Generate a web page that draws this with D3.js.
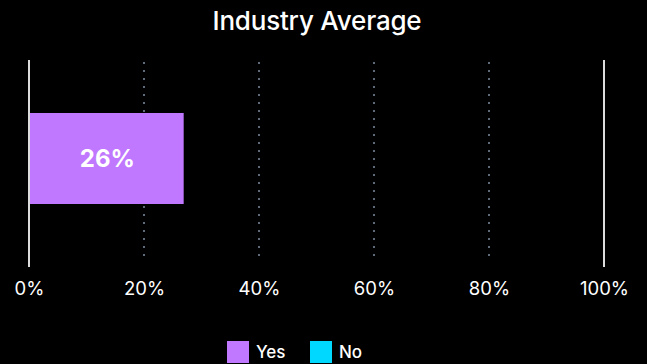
<!DOCTYPE html>
<html>
<head>
<meta charset="utf-8">
<script src="https://cdn.jsdelivr.net/npm/d3@7"></script>
<style>
  html, body { margin: 0; padding: 0; background: #000; }
  svg { display: block; }
  text { font-family: Inter, Lato, sans-serif; fill: #fff; }
</style>
</head>
<body>
<svg id="chart" width="647" height="364"></svg>
<script>
// Chart data
const title = "Industry Average";
const categories = ["Industry Average"];
const seriesNames = ["Yes", "No"];
const seriesColors = ["#bf78ff", "#00d8ff"];
const yesValues = [26.9];
const noValues = [0];
const tickValues = [0, 20, 40, 60, 80, 100];

const width = 647, height = 364;
const margin = { top: 60, right: 43, bottom: 107, left: 29 };

const svg = d3.select("#chart");

const x = d3.scaleLinear()
  .domain([0, 100])
  .range([margin.left, width - margin.right]);

const y = d3.scaleBand()
  .domain(categories)
  .range([margin.top, height - margin.bottom])
  .paddingInner(0.368)
  .paddingOuter(0.368);

// Title
svg.append("text")
  .attr("x", 317)
  .attr("y", 30)
  .attr("text-anchor", "middle")
  .style("font-size", "26px")
  .style("font-weight", 500)
  .style("letter-spacing", "-0.2px")
  .text(title);

// Dotted gridlines at inner ticks
svg.append("g")
  .selectAll("line")
  .data(tickValues.filter(d => d > 0 && d < 100))
  .join("line")
  .attr("x1", d => x(d))
  .attr("x2", d => x(d))
  .attr("y1", 62)
  .attr("y2", 256)
  .attr("stroke", "#5e6a7a")
  .attr("stroke-width", 2)
  .attr("stroke-dasharray", "2,6");

// Solid boundary lines at 0% and 100%
svg.append("g")
  .selectAll("line")
  .data([0, 100])
  .join("line")
  .attr("x1", d => x(d))
  .attr("x2", d => x(d))
  .attr("y1", margin.top)
  .attr("y2", 267)
  .attr("stroke", "#dcdcdc")
  .attr("stroke-width", 2);

// Stacked bars
const rows = categories.map((c, i) => ({ category: c, Yes: yesValues[i], No: noValues[i] }));
const stacked = d3.stack().keys(seriesNames)(rows);
const color = d3.scaleOrdinal().domain(seriesNames).range(seriesColors);

svg.append("g")
  .selectAll("g")
  .data(stacked)
  .join("g")
  .attr("fill", d => color(d.key))
  .selectAll("rect")
  .data(d => d)
  .join("rect")
  .attr("x", d => x(d[0]) + 1)
  .attr("y", d => y(d.data.category))
  .attr("width", d => Math.max(0, x(d[1]) - x(d[0]) - 1))
  .attr("height", y.bandwidth());

// Value labels inside the bars
svg.append("g")
  .selectAll("text")
  .data(stacked.flatMap(s => s.filter(d => d[1] - d[0] > 0)))
  .join("text")
  .attr("x", d => (x(d[0]) + x(d[1])) / 2 + 1)
  .attr("y", d => y(d.data.category) + y.bandwidth() / 2)
  .attr("dy", "0.36em")
  .attr("text-anchor", "middle")
  .style("font-size", "24px")
  .style("font-weight", 700)
  .text(d => Math.floor(d[1] - d[0]) + "%");

// X axis tick labels
const xAxis = d3.axisBottom(x)
  .tickValues(tickValues)
  .tickFormat(d => d + "%")
  .tickSize(0)
  .tickPadding(0);

const axisG = svg.append("g")
  .attr("transform", `translate(0, 282)`)
  .call(xAxis);
axisG.select(".domain").remove();
axisG.selectAll("text")
  .attr("dy", "0.71em")
  .style("font-size", "18.5px")
  .style("font-family", "Inter, sans-serif")
  .attr("fill", "#fff");

// Legend
const legend = svg.append("g")
  .attr("transform", "translate(227, 341)");
const itemX = [0, 83];
const items = legend.selectAll("g")
  .data(seriesNames)
  .join("g")
  .attr("transform", (d, i) => `translate(${itemX[i]}, 0)`);
items.append("rect")
  .attr("width", 22)
  .attr("height", 22)
  .attr("fill", d => color(d));
items.append("text")
  .attr("x", 29)
  .attr("y", 11)
  .attr("dy", "0.36em")
  .style("font-size", "17px")
  .style("font-weight", 500)
  .text(d => d);
</script>
</body>
</html>
